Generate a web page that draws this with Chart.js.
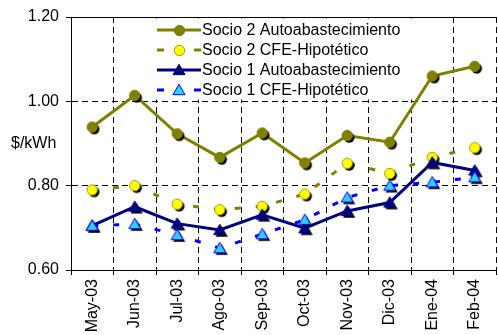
<!DOCTYPE html>
<html>
<head>
<meta charset="utf-8">
<script src="https://cdn.jsdelivr.net/npm/chart.js@4.4.1/dist/chart.umd.min.js"></script>
<style>
html,body{margin:0;padding:0;background:#fff;overflow:hidden;}
#wrap{position:relative;width:505px;height:335px;}
</style>
</head>
<body>
<div id="wrap"><canvas id="c"></canvas></div>
<script>
const categories = ['May-03','Jun-03','Jul-03','Ago-03','Sep-03','Oct-03','Nov-03','Dic-03','Ene-04','Feb-04'];
const socio2Auto = [0.939, 1.014, 0.923, 0.867, 0.925, 0.854, 0.919, 0.903, 1.060, 1.083];
const socio2CFE  = [0.790, 0.800, 0.756, 0.743, 0.751, 0.780, 0.853, 0.829, 0.867, 0.890];
const socio1Auto = [0.705, 0.750, 0.710, 0.695, 0.731, 0.699, 0.740, 0.760, 0.855, 0.836];
const socio1CFE  = [0.705, 0.709, 0.683, 0.652, 0.685, 0.719, 0.772, 0.800, 0.808, 0.820];
const yTicks = [0.60, 0.80, 1.00, 1.20];
const seriesNames = ['Socio 2 Autoabastecimiento','Socio 2 CFE-Hipotético','Socio 1 Autoabastecimiento','Socio 1 CFE-Hipotético'];
const yTitle = '$/kWh';

const FONT = "'Liberation Sans', Arial, sans-serif";
const OLIVE = '#808000', YELLOW = '#FFFF00', NAVY = '#000080', BLUE = '#0000FF', LBLUE = '#33CCFF';

function shapePath(ctx, shape, x, y, r){
  ctx.beginPath();
  if(shape === 'circle'){ ctx.arc(x, y, r, 0, Math.PI*2); }
  else { ctx.moveTo(x, y - r*1.05); ctx.lineTo(x + r*1.1, y + r*0.85); ctx.lineTo(x - r*1.1, y + r*0.85); ctx.closePath(); }
}
function marker(shape, fill, stroke, r, shadow){
  const off = shadow ? 2 : 0;
  const S = Math.ceil(2*(r*1.2+off)+2);
  const c = document.createElement('canvas');
  c.width = S; c.height = S;
  const g = c.getContext('2d');
  const cx = S/2, cy = S/2;
  if(shadow){ shapePath(g, shape, cx+off, cy+off, r); g.fillStyle='#000'; g.fill(); }
  shapePath(g, shape, cx, cy, r); g.fillStyle = fill; g.fill();
  g.lineWidth = 1; g.strokeStyle = stroke; g.stroke();
  return c;
}
const mk = [
  marker('circle', OLIVE, OLIVE, 5.2, true),
  marker('circle', YELLOW, '#9a9a00', 5.2, true),
  marker('tri', NAVY, NAVY, 5.5, true),
  marker('tri', LBLUE, BLUE, 5.5, true)
];
const mkLegend = [
  marker('circle', OLIVE, OLIVE, 5.2, false),
  marker('circle', YELLOW, '#9a9a00', 5.2, false),
  marker('tri', NAVY, NAVY, 5.5, false),
  marker('tri', LBLUE, BLUE, 5.5, false)
];
const colors = [OLIVE, OLIVE, NAVY, BLUE];
const dashes = [[], [6,15], [], [6,15]];

const legendPlugin = {
  id: 'customLegend',
  beforeDatasetsDraw(chart){
    const ctx = chart.ctx;
    ctx.save();
    ctx.fillStyle = '#fff';
    ctx.fillRect(150, 18.5, 272, 81);
    ctx.font = '16px ' + FONT;
    ctx.textBaseline = 'middle';
    ctx.fillStyle = '#000';
    for(let i=0;i<4;i++){
      const y = 30 + i*20;
      ctx.strokeStyle = colors[i];
      ctx.lineWidth = 3;
      ctx.setLineDash(dashes[i].length ? [7,30] : []);
      ctx.beginPath(); ctx.moveTo(157, y); ctx.lineTo(201, y); ctx.stroke();
      ctx.setLineDash([]);
      const m = mkLegend[i];
      ctx.drawImage(m, Math.round(179 - m.width/2), Math.round(y - m.height/2));
      ctx.fillText(seriesNames[i], 202, y + 1);
    }
    ctx.restore();
  },
  afterDraw(chart){
    const ctx = chart.ctx;
    ctx.save();
    ctx.font = '16px ' + FONT;
    ctx.fillStyle = '#000';
    ctx.textBaseline = 'middle';
    ctx.textAlign = 'left';
    ctx.fillText(yTitle, 11, (chart.scales.y.getPixelForValue(1.0) + chart.scales.y.getPixelForValue(0.8))/2);
    ctx.restore();
  }
};

const datasets = [socio2Auto, socio2CFE, socio1Auto, socio1CFE].map((d, i) => ({
  label: seriesNames[i],
  data: d,
  borderColor: colors[i],
  backgroundColor: colors[i],
  borderWidth: 3,
  borderDash: dashes[i],
  pointStyle: mk[i],
  pointRadius: 6,
  tension: 0,
  fill: false,
  order: 4 - i,
  xAxisID: 'x', yAxisID: 'y'
}));

new Chart(document.getElementById('c'), {
  type: 'line',
  data: { labels: categories, datasets },
  plugins: [legendPlugin],
  options: {
    responsive: true,
    maintainAspectRatio: false,
    animation: false,
    layout: { padding: { left: 0, right: 4, top: 0, bottom: 0 } },
    plugins: { legend: { display: false }, tooltip: { enabled: false } },
    scales: {
      x: {
        type: 'category',
        position: 'bottom',
        offset: true,
        grid: { offset: true, color: '#000', lineWidth: 1, tickLength: 5, drawTicks: true },
        border: { display: true, color: '#000', width: 1, dash: [6,4] },
        ticks: { color: '#000', font: { family: FONT, size: 16 }, minRotation: 90, maxRotation: 90, padding: 4, autoSkip: false },
        afterFit(s){ s.height = 65; }
      },
      x2: {
        type: 'category',
        labels: categories,
        position: 'top',
        offset: true,
        grid: { display: false, drawTicks: false },
        border: { display: true, color: '#000', width: 1 },
        ticks: { display: false },
        afterFit(s){ s.height = 17; }
      },
      y: {
        type: 'linear',
        min: 0.6, max: 1.2,
        afterBuildTicks(s){ s.ticks = yTicks.map(v => ({ value: v })); },
        grid: { color: '#000', lineWidth: 1, tickLength: 5 },
        border: { display: true, color: '#000', width: 1, dash: [6,4] },
        ticks: { color: '#000', font: { family: FONT, size: 16 }, padding: 7, callback: v => v.toFixed(2) },
        afterFit(s){ s.width = 71; }
      }
    }
  }
});
</script>
</body>
</html>
